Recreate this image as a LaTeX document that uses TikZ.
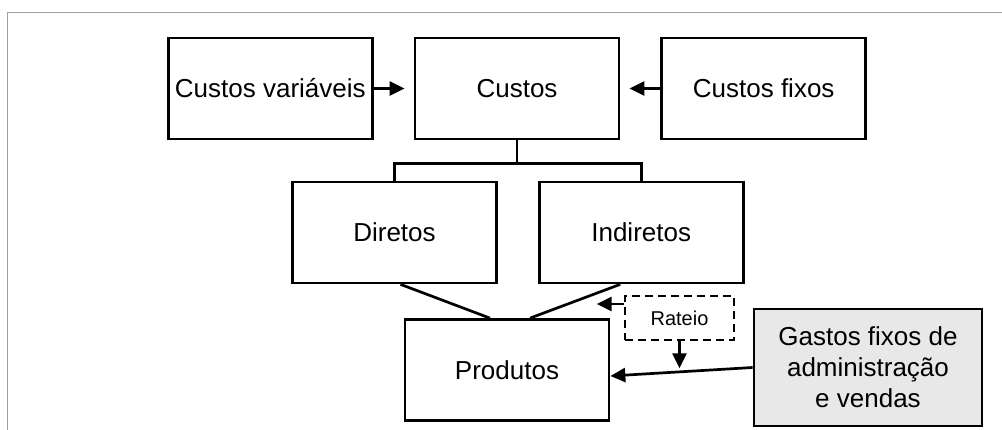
\documentclass[tikz,border=0pt]{standalone}
\usepackage{fontspec}
\setmainfont{Liberation Sans}
\usetikzlibrary{positioning,calc,arrows.meta}
\tikzset{cbox/.style={draw,inner sep=2pt,minimum width=204pt,minimum height=101pt,font=\fontsize{26}{31}\selectfont},
	 gbox/.style={cbox,fill=gray!18,minimum width=228pt,minimum height=117pt,align=center},
	 rbox/.style={draw,dash pattern=on 8pt off 5pt,minimum width=109pt,minimum height=44pt,font=\fontsize{20}{24}\selectfont},
	 arr/.style={-{Triangle[length=15pt,width=14pt]}},
	 node distance = 40pt
	 }

\begin{document}
\begin{tikzpicture}[x=1pt,y=-1pt,line width=2.7pt] % custos
        \useasboundingbox (0,0) rectangle (1002,430);
        \draw[gray!75,line width=1.5pt] (7.5,430) -- (7.5,12.5) -- (1002,12.5);
        \node[cbox] (custos) at (517,88.5) {Custos};
        \node[cbox] (cvar) [left=of custos] {Custos variáveis};
        \node[cbox] (cfix) [right=of custos] {Custos fixos};
        \node[cbox] (diretos) at (394.5,232.5) {Diretos};
        \node[cbox] (indiretos) [right=of diretos] {Indiretos};
        \node[cbox] (produtos) at (507,370) {Produtos};
        \node[rbox] (rateio) at (679.5,318) {Rateio};
        \node[gbox] (gastos) at (868,367.5) {Gastos fixos de\\administração\\e vendas};
        \coordinate (split) at ($(custos.south)+(0,23)$);
        \coordinate (rleft) at ($(rateio.west)+(-27,-14)$);
        \coordinate (rdown) at ($(rateio.south)+(0,27)$);
	\draw[arr,shorten >=9pt] (cvar) -- (custos);
	\draw[arr,shorten >=9pt] (cfix) -- (custos);
	\draw (custos.south) -- (split);
	\draw (diretos.north) |- (split) -| (indiretos.north);
	\draw ($(diretos.south)+(6,0)$) -- ($(produtos.north)+(-17,0)$);
	\draw ($(indiretos.south)+(-21,0)$) -- ($(produtos.north)+(23,0)$);
	\draw[arr] ($(rateio.west)+(0,-14)$) -- (rleft);
	\draw[arr] (rateio.south) -- (rdown);
	\draw[arr] (gastos.west) -- ($(produtos.east)+(0,6)$);
     \end{tikzpicture}
\end{document}
